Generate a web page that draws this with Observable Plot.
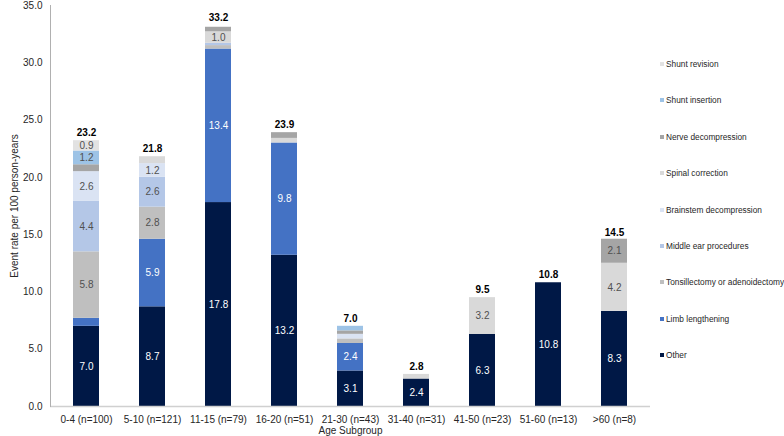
<!DOCTYPE html>
<html>
<head>
<meta charset="utf-8">
<script src="https://cdn.jsdelivr.net/npm/d3@7"></script>
<script src="https://cdn.jsdelivr.net/npm/@observablehq/plot@0.6"></script>
<style>
  html, body { margin: 0; padding: 0; background: #fff; }
  #wrap { position: relative; width: 784px; height: 436px; font-family: "Liberation Sans", Arial, sans-serif; }
  #legend { position: absolute; left: 660px; top: 0; width: 124px; height: 436px; }
  .li { position: absolute; left: 0; font-size: 8.3px; color: #262626; white-space: nowrap; line-height: 10px; transform: translateY(-5px); }
  .sw { display: inline-block; width: 4px; height: 4px; margin-right: 2px; vertical-align: 1px; }
</style>
</head>
<body>
<div id="wrap"><div id="chart"></div><div id="legend"></div></div>
<script>
const categories = ["0-4 (n=100)", "5-10 (n=121)", "11-15 (n=79)", "16-20 (n=51)", "21-30 (n=43)", "31-40 (n=31)", "41-50 (n=23)", "51-60 (n=13)", ">60 (n=8)"];
// stacking order bottom -> top
const seriesNames = ["Other", "Limb lengthening", "Tonsillectomy or adenoidectomy", "Middle ear procedures", "Brainstem decompression", "Spinal correction", "Nerve decompression", "Shunt insertion", "Shunt revision"];
const seriesColors = ["#001846", "#4472c4", "#bfbfbf", "#b4c7e7", "#dae3f3", "#d9d9d9", "#a5a5a5", "#9dc3e6", "#e2e2e2"];

const other        = [7.0, 8.7, 17.8, 13.2, 3.1, 2.4, 6.3, 10.8, 8.3];
const limb         = [0.7, 5.9, 13.4, 9.8, 2.4, 0, 0, 0, 0];
const tonsil       = [5.8, 2.8, 0.3, 0, 0.4, 0, 0, 0, 0];
const middleEar    = [4.4, 2.6, 0.2, 0, 0, 0, 0, 0, 0];
const brainstem    = [2.6, 1.2, 0, 0, 0.4, 0, 0, 0, 0];
const spinal       = [0, 0.6, 1.0, 0.4, 0, 0.4, 3.2, 0, 4.2];
const nerve        = [0.6, 0, 0.4, 0.5, 0.3, 0, 0, 0, 2.1];
const shuntIns     = [1.2, 0, 0, 0, 0.4, 0, 0, 0, 0];
const shuntRev     = [0.9, 0, 0, 0, 0, 0, 0, 0, 0];
const totals       = [23.2, 21.8, 33.2, 23.9, 7.0, 2.8, 9.5, 10.8, 14.5];

const seriesValues = [other, limb, tonsil, middleEar, brainstem, spinal, nerve, shuntIns, shuntRev];
const darkSeries = ["Other", "Limb lengthening"];

const data = [];
seriesNames.forEach((s, si) => {
  categories.forEach((c, ci) => {
    data.push({category: c, series: s, value: seriesValues[si][ci]});
  });
});
const totalData = categories.map((c, i) => ({category: c, total: totals[i]}));

const labelText = dark => d => (d.value >= 0.9 && darkSeries.includes(d.series) === dark) ? d.value.toFixed(1) : "";

const stackOpts = extra => Plot.stackY({x: "category", y: "value", z: "series", order: seriesNames, ...extra});

const chart = Plot.plot({
  width: 784,
  height: 436,
  marginLeft: 50,
  marginRight: 134,
  marginTop: 5,
  marginBottom: 30,
  style: {fontFamily: "'Liberation Sans', Arial, sans-serif", fontSize: "10px", color: "#262626", background: "#fff"},
  x: {domain: categories, paddingInner: 0.6, paddingOuter: 0.3},
  y: {domain: [0, 35]},
  color: {domain: seriesNames, range: seriesColors},
  marks: [
    Plot.barY(data, stackOpts({fill: "series"})),
    Plot.text(data, stackOpts({text: labelText(true), fill: "#ffffff", fontSize: 10})),
    Plot.text(data, stackOpts({text: labelText(false), fill: "#505050", fontSize: 10})),
    Plot.text(totalData, {x: "category", y: "total", text: d => d.total.toFixed(1), dy: -8, fontWeight: "bold", fontSize: 10, fill: "#000"}),
    Plot.ruleY([0], {stroke: "#d0d0d0", strokeWidth: 1.5}),
    Plot.frame({anchor: "left", stroke: "#b0b0b0"}),
    Plot.axisY({ticks: [0, 5, 10, 15, 20, 25, 30, 35], tickFormat: d => d.toFixed(1), tickSize: 0, tickPadding: 8, fontSize: 10, fill: "#262626",
      label: "Event rate per 100 person-years", labelAnchor: "center", labelArrow: "none", labelOffset: 40}),
    Plot.axisX({tickSize: 0, tickPadding: 9, fontSize: 10, fill: "#262626", label: "Age Subgroup", labelAnchor: "center", labelArrow: "none", labelOffset: 27})
  ]
});
document.getElementById("chart").appendChild(chart);

// Legend (top -> bottom is reverse of stacking order)
const legend = document.getElementById("legend");
const legendTop = 64, legendStep = 36.4;
seriesNames.slice().reverse().forEach((s, i) => {
  const idx = seriesNames.indexOf(s);
  const item = document.createElement("div");
  item.className = "li";
  item.style.top = (legendTop + i * legendStep) + "px";
  item.innerHTML = `<span class="sw" style="background:${seriesColors[idx]}"></span>${s}`;
  legend.appendChild(item);
});
</script>
</body>
</html>
